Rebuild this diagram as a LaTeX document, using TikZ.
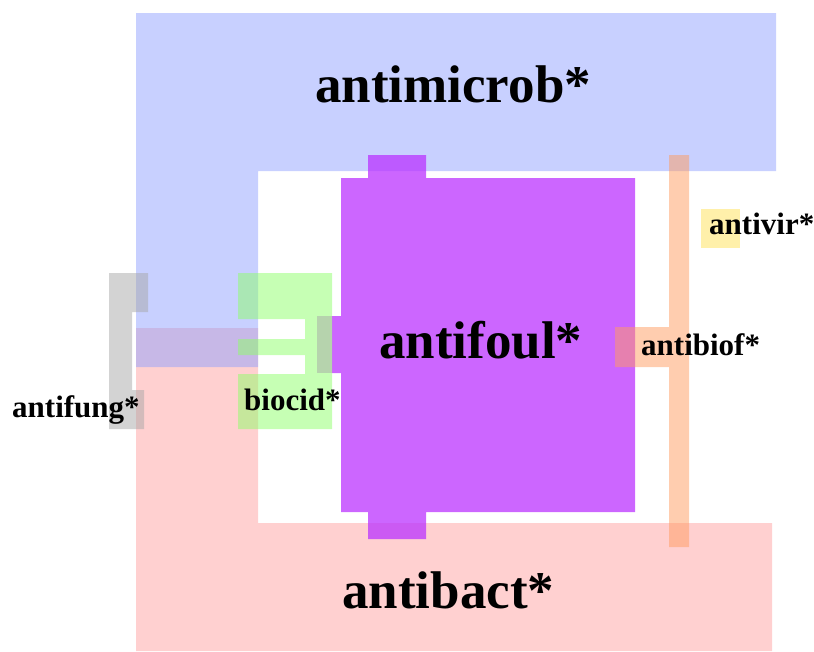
\documentclass[tikz,border=0pt]{standalone}
\usepackage{fontspec}
\setmainfont{Liberation Serif}
\usepackage{xcolor}
\usetikzlibrary{positioning}

\definecolor{microbblue}{RGB}{145,161,255}
\definecolor{bactred}{RGB}{255,161,161}
\definecolor{foulpurple}{RGB}{187,51,255}
\definecolor{cidgreen}{RGB}{141,255,105}
\definecolor{funggray}{RGB}{167,167,167}
\definecolor{biofor}{RGB}{255,155,95}
\definecolor{viryel}{RGB}{255,225,85}

\tikzset{
  region/.style={fill=#1, fill opacity=0.5, draw=none},
  biglabel/.style={inner sep=0pt, anchor=base west, font=\bfseries\fontsize{53}{60}\selectfont},
  smalllabel/.style={inner sep=0pt, anchor=base west, font=\bfseries\fontsize{31}{36}\selectfont}
}

\begin{document}
\begin{tikzpicture}[x=1pt, y=-1pt]
    \useasboundingbox (0, 0) rectangle (814, 651);

    % antibact* and antimicrob*
    \fill[region=bactred] (136, 328) -- (258, 328) -- (258, 523) -- (772, 523)
        -- (772, 651) -- (136, 651) -- cycle;
    \fill[region=microbblue] (136, 13) -- (776, 13) -- (776, 171) -- (258, 171)
        -- (258, 367) -- (136, 367) -- cycle;

    % antifoul*
    \fill[fill=foulpurple, fill opacity=0.75] (368, 155) -- (426, 155) -- (426, 178)
        -- (635, 178) -- (635, 512) -- (426, 512) -- (426, 539) -- (368, 539)
        -- (368, 512) -- (341, 512) -- (341, 373) -- (332, 373) -- (332, 316)
        -- (341, 316) -- (341, 178) -- (368, 178) -- cycle;

    % biocid*
    \fill[region=cidgreen] (238, 273) -- (332, 273) -- (332, 429) -- (238, 429)
        -- (238, 374) -- (305, 374) -- (305, 355) -- (238, 355) -- (238, 339)
        -- (305, 339) -- (305, 319) -- (238, 319) -- cycle;

    % antifung*
    \fill[region=funggray] (109, 273) -- (148, 273) -- (148, 312) -- (132, 312)
        -- (132, 390) -- (144, 390) -- (144, 429) -- (109, 429) -- cycle;
    \fill[region=funggray] (317, 316) rectangle (332, 373);

    % antibiof* and antivir*
    \fill[region=biofor] (669, 155) -- (689, 155) -- (689, 547) -- (669, 547)
        -- (669, 367) -- (615, 367) -- (615, 327) -- (669, 327) -- cycle;
    \fill[region=viryel] (701, 209) rectangle (740, 248);

    \node[biglabel] (microb) at (315, 102) {antimicrob*};
    \node[biglabel] (foul) at (379, 358) {antifoul*};
    \node[biglabel] (bact) at (342, 608) {antibact*};
    \node[smalllabel] (fung) at (12, 417) {antifung*};
    \node[smalllabel] (cid) at (244, 410) {biocid*};
    \node[smalllabel] (biof) at (641, 355) {antibiof*};
    \node[smalllabel] (vir) at (709, 234) {antivir*};
\end{tikzpicture}
\end{document}
